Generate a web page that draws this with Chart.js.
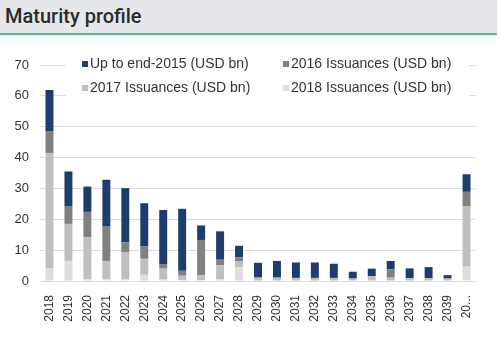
<!DOCTYPE html>
<html>
<head>
<meta charset="utf-8">
<script src="https://cdn.jsdelivr.net/npm/chart.js@4/dist/chart.umd.min.js"></script>
<style>
  html, body { margin: 0; padding: 0; background: #ffffff; }
  body { width: 500px; height: 344px; overflow: hidden; }
  #hdr { height: 35px; background: #e5e7ea; border-bottom: 2px solid #5cb89a;
         font-family: Roboto, "Open Sans", sans-serif; font-weight: 500; font-size: 20px; color: #2b2b2b;
         line-height: 32px; padding-left: 5px; box-sizing: border-box; width: 497px; }
  #wrap { position: relative; width: 500px; height: 309px; }
</style>
</head>
<body>
<div id="hdr">Maturity profile</div>
<div id="wrap"><canvas id="c" width="500" height="309"></canvas></div>
<script>
const categories = ["2018","2019","2020","2021","2022","2023","2024","2025","2026","2027","2028","2029","2030","2031","2032","2033","2034","2035","2036","2037","2038","2039","20..."];
const upTo2015  = [13.3, 11.4, 8.2, 15.2, 17.6, 14.0, 17.5, 20.1, 4.7, 9.2, 3.8, 4.8, 5.4, 5.0, 5.0, 4.6, 2.2, 2.4, 2.7, 3.2, 3.6, 1.1, 5.7];
const iss2016   = [7.1, 5.6, 8.2, 11.1, 3.1, 4.0, 1.5, 1.6, 11.5, 1.8, 1.3, 0, 0, 0, 0, 0, 0, 0, 2.7, 0, 0, 0, 4.6];
const iss2017   = [37.4, 12.0, 13.7, 6.0, 8.9, 5.2, 3.5, 1.4, 1.5, 4.6, 1.9, 1.1, 1.1, 1.0, 1.0, 1.0, 0.8, 1.6, 1.1, 0.9, 0.9, 0.8, 19.6];
const iss2018   = [4.1, 6.5, 0.5, 0.5, 0.5, 2.0, 0.5, 0.3, 0.3, 0.5, 4.4, 0, 0, 0, 0, 0, 0, 0, 0, 0, 0, 0, 4.7];
const yTicks = [0, 10, 20, 30, 40, 50, 60, 70];
const seriesNames = ["Up to end-2015 (USD bn)", "2016 Issuances (USD bn)", "2017 Issuances (USD bn)", "2018 Issuances (USD bn)"];

const C15 = "#1d3d6c", C16 = "#808080", C17 = "#bfbfbf", C18 = "#dedede";
const FONT = "'Liberation Sans', Arial, sans-serif";

const legendPlugin = {
  id: 'boxLegend',
  afterDraw(chart) {
    const ctx = chart.ctx;
    ctx.save();
    ctx.fillStyle = "#ffffff";
    ctx.fillRect(66, 18, 403, 49);
    const items = [
      {t: seriesNames[0], c: C15, x: 82, y: 29},
      {t: seriesNames[1], c: C16, x: 283, y: 29},
      {t: seriesNames[2], c: C17, x: 82, y: 53},
      {t: seriesNames[3], c: C18, x: 283, y: 53}
    ];
    ctx.font = "14px " + FONT;
    ctx.textBaseline = "middle";
    ctx.textAlign = "left";
    for (const it of items) {
      ctx.fillStyle = it.c;
      ctx.fillRect(it.x, it.y - 3, 6, 6);
      ctx.fillStyle = "#333333";
      ctx.fillText(it.t, it.x + 8, it.y + 0.5);
    }
    ctx.restore();
  }
};

new Chart(document.getElementById('c'), {
  type: 'bar',
  data: {
    labels: categories,
    datasets: [
      {label: seriesNames[3], data: iss2018, backgroundColor: C18},
      {label: seriesNames[2], data: iss2017, backgroundColor: C17},
      {label: seriesNames[1], data: iss2016, backgroundColor: C16},
      {label: seriesNames[0], data: upTo2015, backgroundColor: C15}
    ]
  },
  options: {
    responsive: false,
    animation: false,
    maintainAspectRatio: false,
    layout: { padding: { top: 30, right: 24, left: 0, bottom: 0 } },
    datasets: { bar: { barPercentage: 0.42, categoryPercentage: 1.0 } },
    plugins: { legend: { display: false }, tooltip: { enabled: false } },
    scales: {
      x: {
        stacked: true,
        grid: { display: false },
        border: { display: false },
        ticks: { color: "#333333", font: { family: FONT, size: 12 }, minRotation: 90, maxRotation: 90, padding: 6, autoSkip: false },
        afterFit(s) { s.height = 63; }
      },
      y: {
        stacked: true,
        min: 0, max: 70,
        afterBuildTicks(s) { s.ticks = yTicks.map(v => ({value: v})); },
        grid: { color: "#dcdcdc", lineWidth: 1, drawTicks: false },
        border: { display: false },
        ticks: { color: "#333333", font: { family: FONT, size: 13 }, padding: 11 },
        afterFit(s) { s.width = 40; }
      }
    }
  },
  plugins: [legendPlugin]
});
</script>
</body>
</html>
